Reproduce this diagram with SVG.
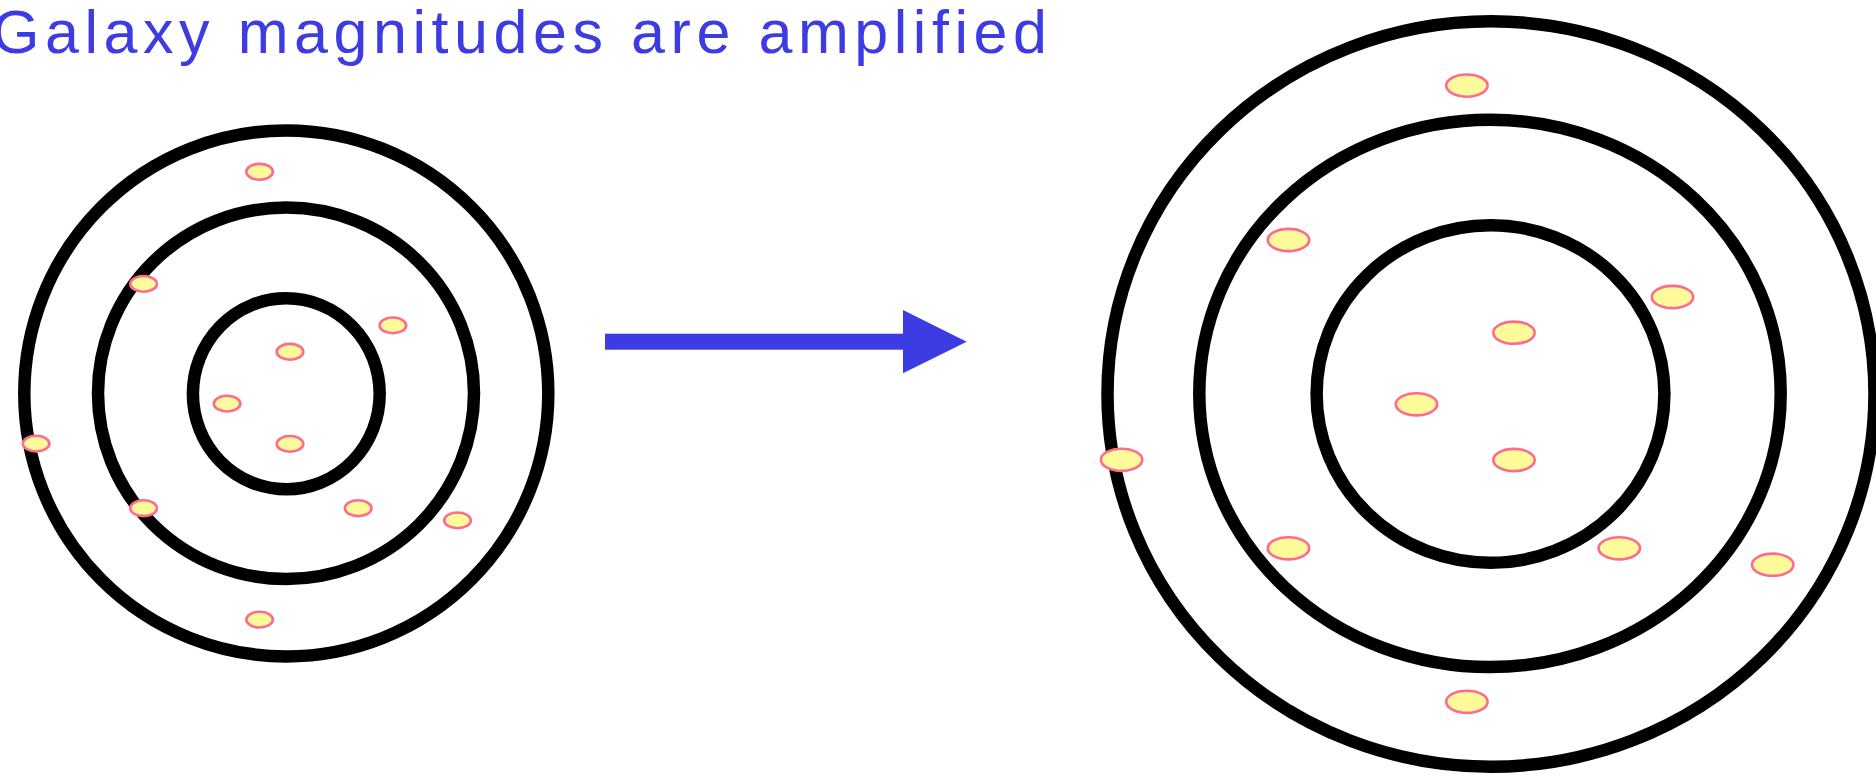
<svg xmlns="http://www.w3.org/2000/svg" width="1876" height="776" viewBox="0 0 1876 776">
<style>
.ring{fill:none;stroke:#000;stroke-width:12.5}
.gs{fill:#fffb9b;stroke:#ff6b8e;stroke-width:2.6}
.title{font-family:"Liberation Sans",Arial,sans-serif;font-size:61px;fill:#3d3ce3}
</style>
<rect width="1876" height="776" fill="#fff"/>
<text class="title" x="-8" y="52.7" textLength="1055" lengthAdjust="spacing">Galaxy magnitudes are amplified</text>
<g id="left-galaxy">
<ellipse class="ring" cx="286.3" cy="393.4" rx="262" ry="263"/>
<ellipse class="ring" cx="286" cy="393.3" rx="188" ry="185.7"/>
<ellipse class="ring" cx="286.3" cy="393.8" rx="93.4" ry="95.5"/>
<g id="left-points">
<ellipse class="gs" cx="259.6" cy="171.8" rx="13.3" ry="7.9"/>
<ellipse class="gs" cx="143.6" cy="283.9" rx="13.3" ry="7.9"/>
<ellipse class="gs" cx="392.9" cy="325.4" rx="13.3" ry="7.9"/>
<ellipse class="gs" cx="290" cy="351.8" rx="13.3" ry="7.9"/>
<ellipse class="gs" cx="227.1" cy="403.6" rx="13.3" ry="7.9"/>
<ellipse class="gs" cx="290" cy="443.9" rx="13.3" ry="7.9"/>
<ellipse class="gs" cx="36.1" cy="443.6" rx="13.3" ry="7.9"/>
<ellipse class="gs" cx="143.6" cy="508.2" rx="13.3" ry="7.9"/>
<ellipse class="gs" cx="358.2" cy="508.2" rx="13.3" ry="7.9"/>
<ellipse class="gs" cx="457.5" cy="520.4" rx="13.3" ry="7.9"/>
<ellipse class="gs" cx="259.6" cy="619.6" rx="13.3" ry="7.9"/>
</g>
</g>
<g id="connectors">
<rect x="605" y="333.7" width="300" height="16" fill="#3d3ce3"/>
<polygon points="903,310 966.7,341.7 903,373.3" fill="#3d3ce3"/>
</g>
<g id="right-galaxy">
<ellipse class="ring" cx="1491" cy="394" rx="383.5" ry="372.7"/>
<ellipse class="ring" cx="1490" cy="393.4" rx="290.7" ry="273.7"/>
<ellipse class="ring" cx="1490.5" cy="394" rx="173.9" ry="168.8"/>
<g id="right-points">
<ellipse class="gs" cx="1466.9" cy="85.6" rx="20.7" ry="11.1"/>
<ellipse class="gs" cx="1288.5" cy="240" rx="20.7" ry="11.1"/>
<ellipse class="gs" cx="1672.5" cy="297" rx="20.7" ry="11.1"/>
<ellipse class="gs" cx="1514" cy="332.7" rx="20.7" ry="11.1"/>
<ellipse class="gs" cx="1416.5" cy="404.3" rx="20.7" ry="11.1"/>
<ellipse class="gs" cx="1514" cy="460" rx="20.7" ry="11.1"/>
<ellipse class="gs" cx="1121.6" cy="459.8" rx="20.7" ry="11.1"/>
<ellipse class="gs" cx="1288.5" cy="548.3" rx="20.7" ry="11.1"/>
<ellipse class="gs" cx="1619.3" cy="548.3" rx="20.7" ry="11.1"/>
<ellipse class="gs" cx="1772.7" cy="564.7" rx="20.7" ry="11.1"/>
<ellipse class="gs" cx="1466.9" cy="701.8" rx="20.7" ry="11.1"/>
</g>
</g>
</svg>
